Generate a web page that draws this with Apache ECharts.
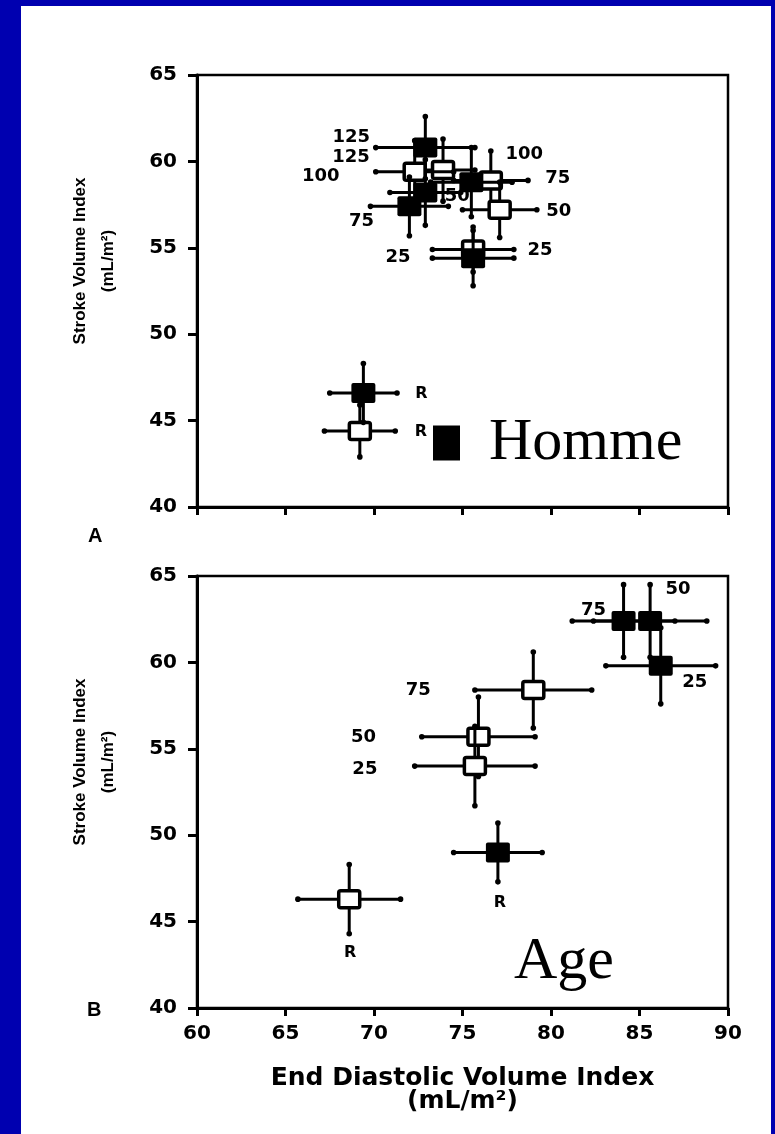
<!DOCTYPE html>
<html>
<head>
<meta charset="utf-8">
<script src="https://cdn.jsdelivr.net/npm/echarts@6/dist/echarts.min.js"></script>
<style>
html,body{margin:0;padding:0;width:775px;height:1134px;overflow:hidden;background:#0000B0}
#panel{position:absolute;left:21px;top:6px;width:750px;height:1128px;background:#ffffff}
#chart{position:absolute;left:0;top:0;width:775px;height:1134px}
</style>
</head>
<body>
<div id="panel"></div>
<div id="chart"></div>
<script>
// ---------------- data ----------------
const xMin = 60, xMax = 90, xStep = 5;          // End Diastolic Volume Index ticks
const yMin = 40, yMax = 65, yStep = 5;          // Stroke Volume Index ticks
const xTickLabels = ['60', '65', '70', '75', '80', '85', '90'];
const yTickLabels = ['40', '45', '50', '55', '60', '65'];

// Panel A (Homme) — filled squares
const aFilledLabels = ['125', '100', '75', '50', '25', 'R'];
const aFilledEDVI   = [72.9, 75.5, 72.0, 72.9, 75.6, 69.4];
const aFilledSVI    = [60.8, 58.8, 57.4, 58.2, 54.4, 46.6];
const aFilledEDVIsd = [2.8, 2.3, 2.2, 2.0, 2.3, 1.9];
const aFilledSVIsd  = [1.8, 2.0, 1.7, 1.9, 1.6, 1.7];
// Panel A — open squares
const aOpenLabels = ['125', '100', '75', '50', '25', 'R'];
const aOpenEDVI   = [73.9, 72.3, 76.6, 77.1, 75.6, 69.2];
const aOpenSVI    = [59.5, 59.4, 58.9, 57.2, 54.9, 44.4];
const aOpenEDVIsd = [1.8, 2.2, 2.1, 2.1, 2.3, 2.0];
const aOpenSVIsd  = [1.8, 1.8, 1.7, 1.6, 1.3, 1.5];

// Panel B (Age) — open squares
const bOpenLabels = ['75', '50', '25', 'R'];
const bOpenEDVI   = [79.0, 75.9, 75.7, 68.6];
const bOpenSVI    = [58.4, 55.7, 54.0, 46.3];
const bOpenEDVIsd = [3.3, 3.2, 3.4, 2.9];
const bOpenSVIsd  = [2.2, 2.3, 2.3, 2.0];
// Panel B — filled squares
const bFilledLabels = ['75', '50', '25', 'R'];
const bFilledEDVI   = [84.1, 85.6, 86.2, 77.0];
const bFilledSVI    = [62.4, 62.4, 59.8, 49.0];
const bFilledEDVIsd = [2.9, 3.2, 3.1, 2.5];
const bFilledSVIsd  = [2.1, 2.1, 2.2, 1.7];

// ---------------- layout (label offsets in px from marker centre) ----------------
const aFilledOffsets = [[-74, -10], [53, -28], [-48, 15], [32, 4], [-75, -1], [58, 1]];
const aOpenOffsets   = [[-92, -13], [-94, 5], [67, -2], [59, 2], [67, 1], [61, 1]];
const bOpenOffsets   = [[-115, 0], [-115, 1], [-110, 3], [1, 54]];
const bFilledOffsets = [[-30, -11], [28, -32], [34, 16], [2, 50]];

const NUMFONT = 'DejaVu Sans';
const AXFONT = 'Liberation Sans';

function errSeries(name, idx, labels, xs, ys, xsd, ysd, offsets, filled) {
  return {
    type: 'custom',
    name: name,
    xAxisIndex: idx,
    yAxisIndex: idx,
    z: filled ? 4 : 3,
    itemStyle: { color: filled ? '#000' : '#fff' },
    encode: { x: 0, y: 1 },
    data: xs.map((x, i) => [x, ys[i], xsd[i], ysd[i]]),
    renderItem: function (params, api) {
      const x = api.value(0), y = api.value(1), dx = api.value(2), dy = api.value(3);
      const c = api.coord([x, y]);
      const l = api.coord([x - dx, y]), r = api.coord([x + dx, y]);
      const t = api.coord([x, y + dy]), b = api.coord([x, y - dy]);
      const ls = { stroke: '#000', lineWidth: 3 };
      const ch = [
        { type: 'line', shape: { x1: l[0], y1: l[1], x2: r[0], y2: r[1] }, style: ls },
        { type: 'line', shape: { x1: t[0], y1: t[1], x2: b[0], y2: b[1] }, style: ls }
      ];
      [l, r, t, b].forEach(p => ch.push({ type: 'circle', shape: { cx: p[0], cy: p[1], r: 2.8 }, style: { fill: '#000' } }));
      if (filled) {
        ch.push({ type: 'rect', shape: { x: c[0] - 12, y: c[1] - 10, width: 24, height: 20, r: 2 }, style: { fill: '#000' } });
      } else {
        ch.push({ type: 'rect', shape: { x: c[0] - 10.5, y: c[1] - 8.5, width: 21, height: 17, r: 2 }, style: { fill: '#fff', stroke: '#000', lineWidth: 3.5 } });
      }
      const lab = labels[params.dataIndex];
      const off = offsets[params.dataIndex];
      ch.push({
        type: 'text', x: c[0] + off[0], y: c[1] + off[1],
        style: {
          text: lab, fill: '#000', fontFamily: NUMFONT, fontWeight: 'bold',
          fontSize: lab === 'R' ? 16 : 18, align: 'center', verticalAlign: 'middle'
        }
      });
      return { type: 'group', children: ch };
    }
  };
}

function xAxisCfg(idx, showLabels) {
  return {
    gridIndex: idx, type: 'value', min: xMin, max: xMax, interval: xStep,
    axisLine: { show: true, onZero: false, lineStyle: { color: '#000', width: 3 } },
    axisTick: { show: true, inside: false, length: 8, lineStyle: { color: '#000', width: 3 } },
    axisLabel: {
      show: showLabels, margin: 16, color: '#000', fontFamily: NUMFONT, fontWeight: 'bold', fontSize: 20,
      formatter: v => xTickLabels[Math.round((v - xMin) / xStep)]
    },
    splitLine: { show: false },
    name: showLabels ? 'End Diastolic Volume Index\n(mL/m²)' : '',
    nameLocation: 'middle', nameGap: 59,
    nameTextStyle: { color: '#000', fontFamily: NUMFONT, fontWeight: 'bold', fontSize: 25, lineHeight: 23 }
  };
}
function yAxisCfg(idx) {
  return {
    gridIndex: idx, type: 'value', min: yMin, max: yMax, interval: yStep,
    axisLine: { show: true, onZero: false, lineStyle: { color: '#000', width: 3 } },
    axisTick: { show: true, inside: false, length: 9, lineStyle: { color: '#000', width: 3 } },
    axisLabel: {
      margin: 20, color: '#000', fontFamily: NUMFONT, fontWeight: 'bold', fontSize: 20,
      formatter: v => yTickLabels[Math.round((v - yMin) / yStep)]
    },
    splitLine: { show: false },
    name: 'Stroke Volume Index\n(mL/m²)',
    nameLocation: 'middle', nameRotate: 90, nameGap: 75,
    nameTextStyle: { color: '#000', fontFamily: AXFONT, fontWeight: 'bold', fontSize: 17, lineHeight: 28, padding: [0, 0, 0, 60] }
  };
}

const chart = echarts.init(document.getElementById('chart'), null, { renderer: 'canvas' });
chart.setOption({
  animation: false,
  backgroundColor: 'transparent',
  grid: [
    { left: 197, top: 75, width: 531, height: 432, show: true, borderColor: '#000', borderWidth: 2.5, backgroundColor: 'transparent', containLabel: false, outerBoundsMode: 'none' },
    { left: 197, top: 576, width: 531, height: 432, show: true, borderColor: '#000', borderWidth: 2.5, backgroundColor: 'transparent', containLabel: false, outerBoundsMode: 'none' }
  ],
  xAxis: [xAxisCfg(0, false), xAxisCfg(1, true)],
  yAxis: [yAxisCfg(0), yAxisCfg(1)],
  legend: {
    data: ['Homme'], left: 433, top: 413, padding: 0, selectedMode: false,
    icon: 'rect', itemWidth: 27, itemHeight: 35,
    textStyle: { color: '#000', fontFamily: 'Liberation Serif', fontSize: 60, padding: [6, 0, 0, 24] }
  },
  graphic: [
    { type: 'text', left: 88, top: 526, style: { text: 'A', fill: '#000', fontFamily: AXFONT, fontWeight: 'bold', fontSize: 20 } },
    { type: 'text', left: 87, top: 1000, style: { text: 'B', fill: '#000', fontFamily: AXFONT, fontWeight: 'bold', fontSize: 20 } },
    { type: 'text', left: 514, top: 932, style: { text: 'Age', fill: '#000', fontFamily: 'Liberation Serif', fontSize: 60 } }
  ],
  series: [
    errSeries('Femme', 0, aOpenLabels, aOpenEDVI, aOpenSVI, aOpenEDVIsd, aOpenSVIsd, aOpenOffsets, false),
    errSeries('Homme', 0, aFilledLabels, aFilledEDVI, aFilledSVI, aFilledEDVIsd, aFilledSVIsd, aFilledOffsets, true),
    errSeries('Age open', 1, bOpenLabels, bOpenEDVI, bOpenSVI, bOpenEDVIsd, bOpenSVIsd, bOpenOffsets, false),
    errSeries('Age filled', 1, bFilledLabels, bFilledEDVI, bFilledSVI, bFilledEDVIsd, bFilledSVIsd, bFilledOffsets, true)
  ]
});
</script>
</body>
</html>
